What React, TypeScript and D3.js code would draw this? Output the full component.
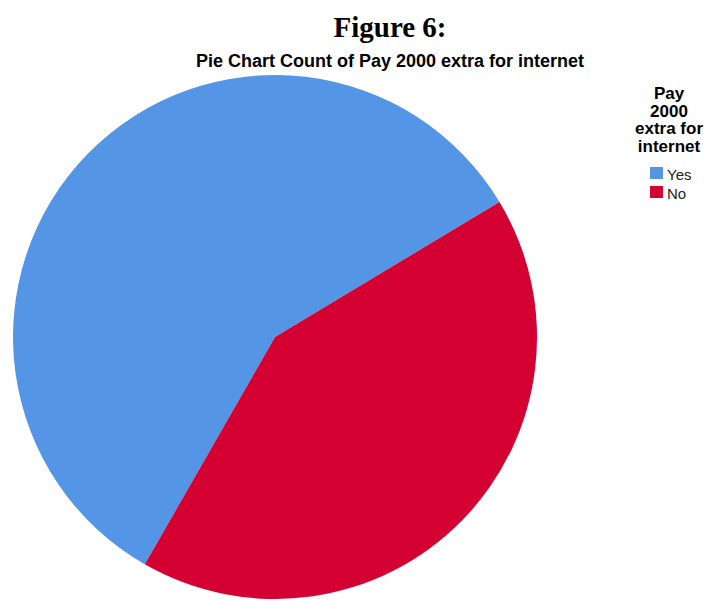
import React from "react";
import * as d3 from "d3";

const categories = ["Yes", "No"];
const counts = [58.1, 41.9];
const colors = ["#5595E5", "#D50032"];
const legendTitleLines = ["Pay", "2000", "extra for", "internet"];
const figureTitle = "Figure 6:";
const chartTitle = "Pie Chart Count of Pay 2000 extra for internet";

export default function App() {
  const W = 708, H = 601;
  const cx = 275, cy = 337, r = 262;
  const startDeg = 209.8;
  const pie = d3.pie<number>().sort(null)
    .startAngle((startDeg * Math.PI) / 180)
    .endAngle(((startDeg + 360) * Math.PI) / 180);
  const arcs = pie(counts);
  const arc = d3.arc<d3.PieArcDatum<number>>().innerRadius(0).outerRadius(r);
  return (
    <svg width={W} height={H} style={{ position: "absolute", left: 0, top: 0 }}>
      <rect width={W} height={H} fill="#fff" />
      <text x={390} y={37} textAnchor="middle" fontFamily="'Liberation Serif', serif" fontWeight="bold" fontSize={29} fill="#000">{figureTitle}</text>
      <text x={390} y={67} textAnchor="middle" fontFamily="'Liberation Sans', Arial, sans-serif" fontWeight="bold" fontSize={18} fill="#000">{chartTitle}</text>
      <g transform={`translate(${cx},${cy})`}>
        {arcs.map((a, i) => (
          <path key={categories[i]} d={arc(a) || ""} fill={colors[i]} />
        ))}
      </g>
      <g fontFamily="'Liberation Sans', Arial, sans-serif">
        {legendTitleLines.map((l, i) => (
          <text key={l} x={669} y={99 + i * 17.7} textAnchor="middle" fontSize={17} fontWeight="bold" fill="#000">{l}</text>
        ))}
        {categories.map((c, i) => (
          <g key={c} transform={`translate(650,${167 + i * 19})`}>
            <rect width={13} height={12} fill={colors[i]} />
            <text x={17} y={12.5} fontSize={15} fill="#222">{c}</text>
          </g>
        ))}
      </g>
    </svg>
  );
}
